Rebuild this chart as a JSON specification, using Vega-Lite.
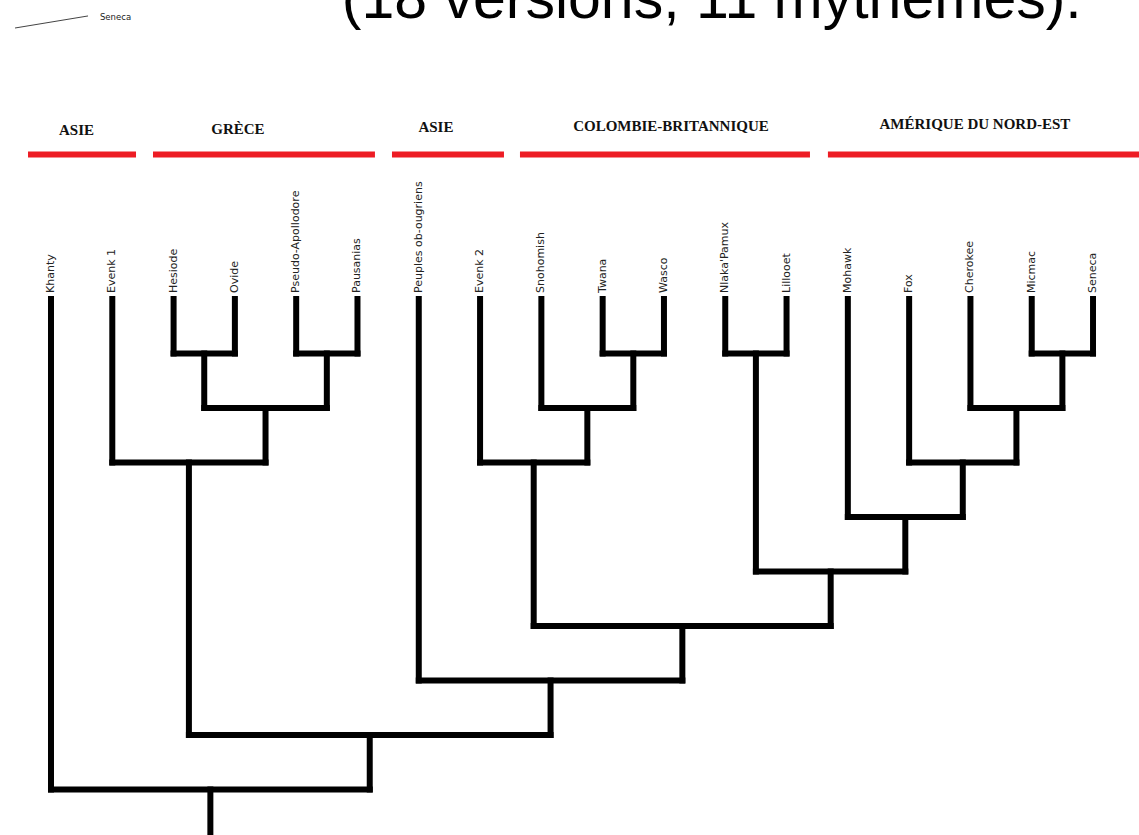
{
  "$schema": "https://vega.github.io/schema/vega-lite/v6.json",
  "width": 1139,
  "height": 835,
  "autosize": {"type": "none"},
  "padding": 0,
  "background": "white",
  "config": {"view": {"stroke": null}},
  "datasets": {
    "tree": [
      {"x": 0, "x2": 0, "y": 0, "y2": 9},
      {"x": 1, "x2": 1, "y": 0, "y2": 3},
      {"x": 2, "x2": 2, "y": 0, "y2": 1},
      {"x": 3, "x2": 3, "y": 0, "y2": 1},
      {"x": 4, "x2": 4, "y": 0, "y2": 1},
      {"x": 5, "x2": 5, "y": 0, "y2": 1},
      {"x": 6, "x2": 6, "y": 0, "y2": 7},
      {"x": 7, "x2": 7, "y": 0, "y2": 3},
      {"x": 8, "x2": 8, "y": 0, "y2": 2},
      {"x": 9, "x2": 9, "y": 0, "y2": 1},
      {"x": 10, "x2": 10, "y": 0, "y2": 1},
      {"x": 11, "x2": 11, "y": 0, "y2": 1},
      {"x": 12, "x2": 12, "y": 0, "y2": 1},
      {"x": 13, "x2": 13, "y": 0, "y2": 4},
      {"x": 14, "x2": 14, "y": 0, "y2": 3},
      {"x": 15, "x2": 15, "y": 0, "y2": 2},
      {"x": 16, "x2": 16, "y": 0, "y2": 1},
      {"x": 17, "x2": 17, "y": 0, "y2": 1},
      {"x": 2.5, "x2": 2.5, "y": 1, "y2": 2},
      {"x": 4.5, "x2": 4.5, "y": 1, "y2": 2},
      {"x": 3.5, "x2": 3.5, "y": 2, "y2": 3},
      {"x": 2.25, "x2": 2.25, "y": 3, "y2": 8},
      {"x": 9.5, "x2": 9.5, "y": 1, "y2": 2},
      {"x": 8.75, "x2": 8.75, "y": 2, "y2": 3},
      {"x": 7.875, "x2": 7.875, "y": 3, "y2": 6},
      {"x": 11.5, "x2": 11.5, "y": 1, "y2": 5},
      {"x": 16.5, "x2": 16.5, "y": 1, "y2": 2},
      {"x": 15.75, "x2": 15.75, "y": 2, "y2": 3},
      {"x": 14.875, "x2": 14.875, "y": 3, "y2": 4},
      {"x": 13.9375, "x2": 13.9375, "y": 4, "y2": 5},
      {"x": 12.72, "x2": 12.72, "y": 5, "y2": 6},
      {"x": 10.3, "x2": 10.3, "y": 6, "y2": 7},
      {"x": 8.15, "x2": 8.15, "y": 7, "y2": 8},
      {"x": 5.2, "x2": 5.2, "y": 8, "y2": 9},
      {"x": 2.6, "x2": 2.6, "y": 9, "y2": 9.9},
      {"x": 2, "x2": 3, "y": 1, "y2": 1},
      {"x": 4, "x2": 5, "y": 1, "y2": 1},
      {"x": 9, "x2": 10, "y": 1, "y2": 1},
      {"x": 11, "x2": 12, "y": 1, "y2": 1},
      {"x": 16, "x2": 17, "y": 1, "y2": 1},
      {"x": 2.5, "x2": 4.5, "y": 2, "y2": 2},
      {"x": 8, "x2": 9.5, "y": 2, "y2": 2},
      {"x": 15, "x2": 16.5, "y": 2, "y2": 2},
      {"x": 1, "x2": 3.5, "y": 3, "y2": 3},
      {"x": 7, "x2": 8.75, "y": 3, "y2": 3},
      {"x": 14, "x2": 15.75, "y": 3, "y2": 3},
      {"x": 13, "x2": 14.875, "y": 4, "y2": 4},
      {"x": 11.5, "x2": 13.9375, "y": 5, "y2": 5},
      {"x": 7.875, "x2": 12.72, "y": 6, "y2": 6},
      {"x": 6, "x2": 10.3, "y": 7, "y2": 7},
      {"x": 2.25, "x2": 8.15, "y": 8, "y2": 8},
      {"x": 0, "x2": 5.2, "y": 9, "y2": 9}
    ],
    "leaves": [
      {"x": 0, "name": "Khanty"},
      {"x": 1, "name": "Evenk 1"},
      {"x": 2, "name": "Hesiode"},
      {"x": 3, "name": "Ovide"},
      {"x": 4, "name": "Pseudo-Apollodore"},
      {"x": 5, "name": "Pausanias"},
      {"x": 6, "name": "Peuples ob-ougriens"},
      {"x": 7, "name": "Evenk 2"},
      {"x": 8, "name": "Snohomish"},
      {"x": 9, "name": "Twana"},
      {"x": 10, "name": "Wasco"},
      {"x": 11, "name": "Nlaka'Pamux"},
      {"x": 12, "name": "Lillooet"},
      {"x": 13, "name": "Mohawk"},
      {"x": 14, "name": "Fox"},
      {"x": 15, "name": "Cherokee"},
      {"x": 16, "name": "Micmac"},
      {"x": 17, "name": "Seneca"}
    ],
    "regions": [
      {"region": "ASIE", "x": -0.375, "x2": 1.387, "lx": 0.416, "ly": -3.106},
      {"region": "GRÈCE", "x": 1.664, "x2": 5.285, "lx": 3.05, "ly": -3.119},
      {"region": "ASIE", "x": 5.563, "x2": 7.39, "lx": 6.28, "ly": -3.147},
      {"region": "COLOMBIE-BRITANNIQUE", "x": 7.651, "x2": 12.382, "lx": 10.114, "ly": -3.165},
      {"region": "AMÉRIQUE DU NORD-EST", "x": 12.675, "x2": 17.75, "lx": 15.073, "ly": -3.202}
    ],
    "title": [
      {"x": 10.78, "y": -5.16, "label": "(18 versions, 11 mythèmes)."}
    ],
    "legend": [
      {"x": -0.587, "y": -4.972, "x2": 0.604, "y2": -5.193, "lx": 0.799, "ly": -5.174, "label": "Seneca"}
    ]
  },
  "layer": [
    {
      "data": {"name": "regions"},
      "mark": {"type": "rule", "color": "#ED1C24", "strokeWidth": 6, "strokeCap": "butt"},
      "encoding": {
        "x": {"field": "x", "type": "quantitative", "scale": {"domain": [-0.832, 17.75], "nice": false, "zero": false}, "axis": null},
        "x2": {"field": "x2"},
        "y": {"datum": -2.651, "type": "quantitative", "scale": {"domain": [-5.486, 9.835], "nice": false, "zero": false, "reverse": true}, "axis": null}
      }
    },
    {
      "data": {"name": "regions"},
      "mark": {"type": "text", "font": "Liberation Serif", "fontWeight": "bold", "fontSize": 15, "color": "#111", "align": "center", "baseline": "middle"},
      "encoding": {
        "x": {"field": "lx", "type": "quantitative", "scale": {"domain": [-0.832, 17.75], "nice": false, "zero": false}, "axis": null},
        "y": {"field": "ly", "type": "quantitative", "scale": {"domain": [-5.486, 9.835], "nice": false, "zero": false, "reverse": true}, "axis": null},
        "text": {"field": "region"}
      }
    },
    {
      "data": {"name": "tree"},
      "mark": {"type": "rule", "color": "black", "strokeWidth": 6, "strokeCap": "square"},
      "encoding": {
        "x": {"field": "x", "type": "quantitative", "scale": {"domain": [-0.832, 17.75], "nice": false, "zero": false}, "axis": null},
        "x2": {"field": "x2"},
        "y": {"field": "y", "type": "quantitative", "scale": {"domain": [-5.486, 9.835], "nice": false, "zero": false, "reverse": true}, "axis": null},
        "y2": {"field": "y2"}
      }
    },
    {
      "data": {"name": "leaves"},
      "mark": {"type": "text", "font": "DejaVu Sans", "fontSize": 11, "color": "#222", "angle": 270, "align": "left", "baseline": "middle"},
      "encoding": {
        "x": {"field": "x", "type": "quantitative", "scale": {"domain": [-0.832, 17.75], "nice": false, "zero": false}, "axis": null},
        "y": {"datum": -0.11, "type": "quantitative", "scale": {"domain": [-5.486, 9.835], "nice": false, "zero": false, "reverse": true}, "axis": null},
        "text": {"field": "name"}
      }
    },
    {
      "data": {"name": "title"},
      "mark": {"type": "text", "font": "Liberation Sans", "fontSize": 59, "color": "black", "align": "center", "baseline": "alphabetic"},
      "encoding": {
        "x": {"field": "x", "type": "quantitative", "scale": {"domain": [-0.832, 17.75], "nice": false, "zero": false}, "axis": null},
        "y": {"field": "y", "type": "quantitative", "scale": {"domain": [-5.486, 9.835], "nice": false, "zero": false, "reverse": true}, "axis": null},
        "text": {"field": "label"}
      }
    },
    {
      "data": {"name": "legend"},
      "mark": {"type": "rule", "color": "#444", "strokeWidth": 1},
      "encoding": {
        "x": {"field": "x", "type": "quantitative", "scale": {"domain": [-0.832, 17.75], "nice": false, "zero": false}, "axis": null},
        "x2": {"field": "x2"},
        "y": {"field": "y", "type": "quantitative", "scale": {"domain": [-5.486, 9.835], "nice": false, "zero": false, "reverse": true}, "axis": null},
        "y2": {"field": "y2"}
      }
    },
    {
      "data": {"name": "legend"},
      "mark": {"type": "text", "font": "DejaVu Sans", "fontSize": 8.5, "color": "#222", "align": "left", "baseline": "middle"},
      "encoding": {
        "x": {"field": "lx", "type": "quantitative", "scale": {"domain": [-0.832, 17.75], "nice": false, "zero": false}, "axis": null},
        "y": {"field": "ly", "type": "quantitative", "scale": {"domain": [-5.486, 9.835], "nice": false, "zero": false, "reverse": true}, "axis": null},
        "text": {"field": "label"}
      }
    }
  ]
}
